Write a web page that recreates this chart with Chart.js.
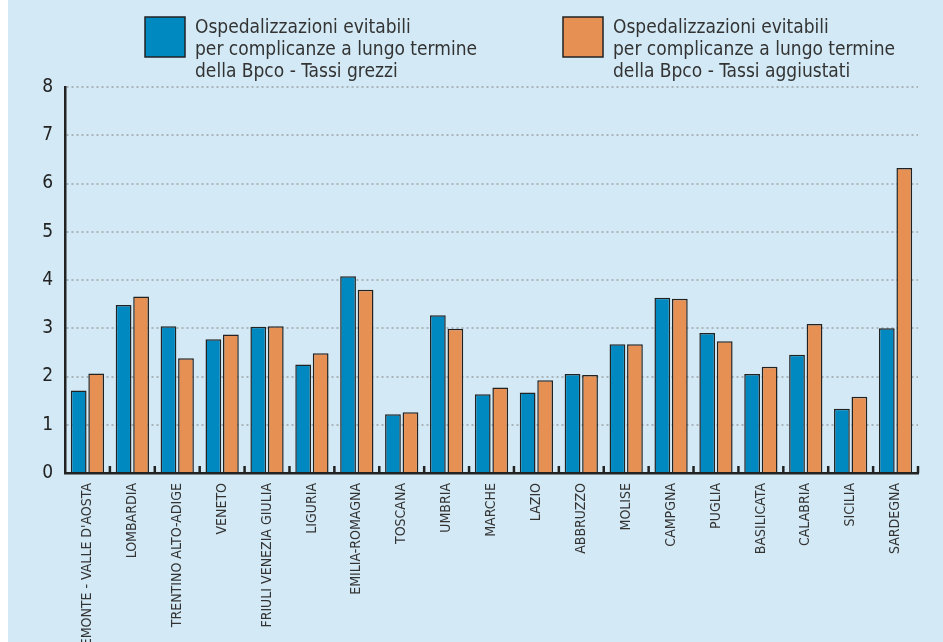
<!DOCTYPE html>
<html>
<head>
<meta charset="utf-8">
<script src="https://cdn.jsdelivr.net/npm/chart.js@4.4.1/dist/chart.umd.min.js"></script>
<style>
  html, body { margin: 0; padding: 0; background: #ffffff; }
  #wrap { position: absolute; left: 8px; top: 0; width: 935px; height: 642px; background: #d3eaf6; }
  canvas { display: block; }
</style>
</head>
<body>
<div id="wrap"><canvas id="c" width="935" height="642"></canvas></div>
<script>
const categories = ["PIEMONTE - VALLE D'AOSTA", "LOMBARDIA", "TRENTINO ALTO-ADIGE", "VENETO", "FRIULI VENEZIA GIULIA", "LIGURIA", "EMILIA-ROMAGNA", "TOSCANA", "UMBRIA", "MARCHE", "LAZIO", "ABBRUZZO", "MOLISE", "CAMPGNA", "PUGLIA", "BASILICATA", "CALABRIA", "SICILIA", "SARDEGNA"];
const tassiGrezzi = [1.71, 3.48, 3.04, 2.77, 3.03, 2.25, 4.08, 1.22, 3.27, 1.63, 1.67, 2.05, 2.67, 3.63, 2.90, 2.05, 2.45, 1.33, 3.00];
const tassiAggiustati = [2.06, 3.66, 2.38, 2.87, 3.04, 2.48, 3.80, 1.26, 2.99, 1.77, 1.92, 2.03, 2.67, 3.61, 2.73, 2.20, 3.09, 1.58, 6.32];
const seriesLabels = [
  ["Ospedalizzazioni evitabili", "per complicanze a lungo termine", "della Bpco - Tassi grezzi"],
  ["Ospedalizzazioni evitabili", "per complicanze a lungo termine", "della Bpco - Tassi aggiustati"]
];
const yTicks = [0, 1, 2, 3, 4, 5, 6, 7, 8];

const FONT = "'Liberation Sans Narrow', 'DejaVu Sans Condensed', 'Open Sans', sans-serif";
const BLUE = '#0089c1';
const ORANGE = '#e69054';
const EDGE = '#222222';

const tickMarks = {
  id: 'tickMarks',
  afterDatasetsDraw(chart) {
    const ctx = chart.ctx, x = chart.scales.x, area = chart.chartArea;
    ctx.save();
    ctx.strokeStyle = EDGE;
    ctx.lineWidth = 2.5;
    const n = categories.length;
    for (let i = 0; i < n; i++) {
      const px = i < n - 1 ? (x.getPixelForValue(i) + x.getPixelForValue(i + 1)) / 2 : area.right;
      ctx.beginPath();
      ctx.moveTo(px, area.bottom);
      ctx.lineTo(px, area.bottom - 7);
      ctx.stroke();
    }
    ctx.restore();
  }
};

const boxLegend = {
  id: 'boxLegend',
  afterDraw(chart) {
    const ctx = chart.ctx;
    const xs = [137, 555];
    ctx.save();
    chart.data.datasets.forEach((ds, i) => {
      const bx = xs[i];
      ctx.fillStyle = ds.backgroundColor;
      ctx.fillRect(bx, 17, 40, 40);
      ctx.strokeStyle = EDGE;
      ctx.lineWidth = 1.5;
      ctx.strokeRect(bx, 17, 40, 40);
      ctx.fillStyle = '#333333';
      ctx.font = '19px ' + FONT;
      ctx.textBaseline = 'alphabetic';
      ctx.textAlign = 'left';
      seriesLabels[i].forEach((line, j) => {
        ctx.fillText(line, bx + 50, 33 + j * 22);
      });
    });
    ctx.restore();
  }
};

new Chart(document.getElementById('c'), {
  type: 'bar',
  data: {
    labels: categories,
    datasets: [
      { label: seriesLabels[0].join(' '), data: tassiGrezzi, backgroundColor: BLUE, borderColor: EDGE, borderWidth: 1.5 },
      { label: seriesLabels[1].join(' '), data: tassiAggiustati, backgroundColor: ORANGE, borderColor: EDGE, borderWidth: 1.5 }
    ]
  },
  options: {
    responsive: false,
    animation: false,
    layout: { padding: { top: 87, right: 25, left: 0, bottom: 0 } },
    plugins: { legend: { display: false }, tooltip: { enabled: false } },
    datasets: { bar: { categoryPercentage: 0.78, barPercentage: 0.9 } },
    scales: {
      x: {
        grid: { display: false, drawTicks: false },
        border: { display: true, color: EDGE, width: 2.5 },
        ticks: { autoSkip: false, minRotation: 90, maxRotation: 90, padding: 10, color: '#333333', font: { family: FONT, size: 14 } },
        afterFit(s) { s.height = 169; }
      },
      y: {
        min: 0, max: 8,
        afterBuildTicks(s) { s.ticks = yTicks.map(v => ({ value: v })); },
        grid: { color: '#a9b4ba', lineWidth: 2, drawTicks: false, tickBorderDash: [2, 3] },
        border: { display: true, color: EDGE, width: 2.5, dash: [2, 3] },
        ticks: { padding: 12, color: '#222222', font: { family: FONT, size: 19 } },
        afterFit(s) { s.width = 57; }
      }
    }
  },
  plugins: [tickMarks, boxLegend]
});
</script>
</body>
</html>
